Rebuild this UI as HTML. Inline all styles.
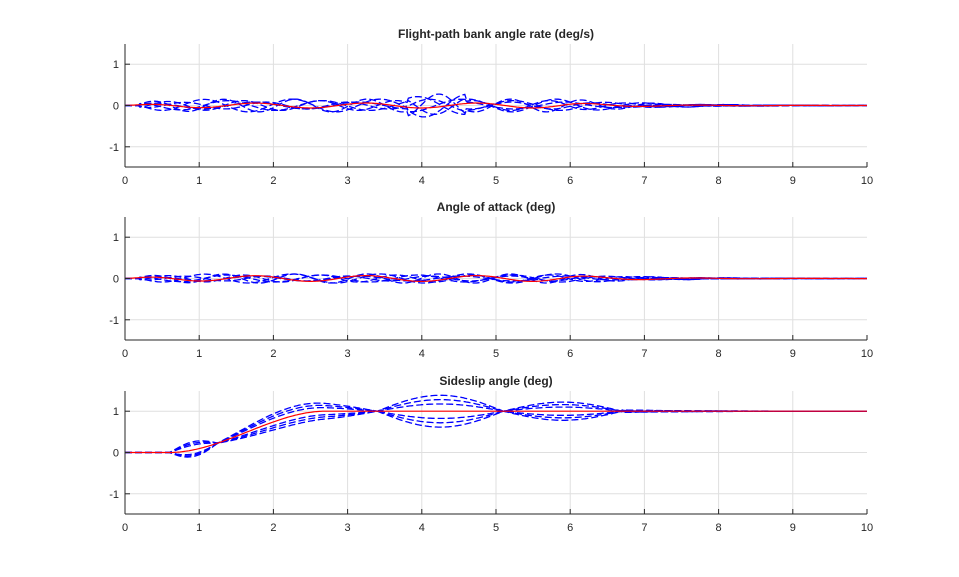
<!DOCTYPE html>
<html><head><meta charset="utf-8"><style>
body{margin:0;background:#fff;}
svg{display:block;font-family:"Liberation Sans",Arial,sans-serif;}
</style></head><body>
<svg id="s" width="959" height="577" viewBox="0 0 959 577" xmlns="http://www.w3.org/2000/svg"></svg>
<script>
const S=document.getElementById('s');
const X0=125,X1=867,px=(X1-X0)/10;
const panels=[{top:44,title:"Flight-path bank angle rate (deg/s)",k:0},
{top:217,title:"Angle of attack (deg)",k:1},{top:391,title:"Sideslip angle (deg)",k:2}];
let h='';
function step(t){if(t<0.6)return 0;if(t>2.7)return 1;let u=(t-0.6)/2.1;return u*u*(3-2*u);}
panels.forEach(p=>{
 const H=123,top=p.top,bot=top+H;
 const Y=v=>top+H/2-v*41.3;
 h+=`<rect x="${X0}" y="${top}" width="${X1-X0}" height="${H}" fill="#fff"/>`;
 for(let i=1;i<10;i++){let x=X0+i*px;h+=`<line x1="${x}" y1="${top}" x2="${x}" y2="${bot}" stroke="#dfdfdf" stroke-width="1"/>`;}
 [-1,0,1].forEach(v=>h+=`<line x1="${X0}" y1="${Y(v)}" x2="${X1}" y2="${Y(v)}" stroke="#dfdfdf" stroke-width="1"/>`);
 const N=500;
 for(let c=0;c<6;c++){
  let d='';
  for(let i=0;i<=N;i++){let t=10*i/N,v;
   const ph=c*1.1, sg=(c%2?1:-1), m=(0.5+0.3*(c%3));
   if(p.k==2){
    let env=0;
    if(t>0.6&&t<1.25)env=0.2*Math.sin(Math.PI*(t-0.6)/0.65)*(c%2?1:-0.8)*(0.6+0.2*(c%3));
    else if(t>=1.25&&t<3.4)env=0.2*Math.sin(Math.PI*(t-1.25)/2.15)*sg*m;
    else if(t>=3.4&&t<5.1)env=0.35*Math.sin(Math.PI*(t-3.4)/1.7)*sg*m;
    else if(t>=5.1&&t<6.7)env=0.2*Math.sin(Math.PI*(t-5.1)/1.6)*sg*m;
    else if(t>=6.7)env=0.03*Math.exp(-(t-6.7))*Math.sin(3*t+ph);
    v=step(t)+env;
   } else {
    let a=(p.k==0?0.14:0.1)*(0.6+0.25*(c%3));
    if(p.k==0&&t>3.8&&t<4.6)a*=1.8;
    v=(t<0.2?0:a)*Math.sin(t*(4.5+0.4*c)+ph)*(1-Math.exp(-t*3));
    if(t>6)v*=Math.exp(-(t-6)*0.9);
   }
   d+=(i?'L':'M')+(X0+t*px).toFixed(1)+' '+Y(v).toFixed(1);}
  h+=`<path d="${d}" fill="none" stroke="#0000ff" stroke-width="1.3" stroke-dasharray="7,3"/>`;
 }
 let d='';
 for(let i=0;i<=N;i++){let t=10*i/N,v;
  if(p.k==2)v=step(t);else v=(p.k==0?0.06:0.07)*Math.sin(t*4.2+0.5)*(1-Math.exp(-t*2))*(t>6?Math.exp(-(t-6)):1);
  d+=(i?'L':'M')+(X0+t*px).toFixed(1)+' '+Y(v).toFixed(1);}
 h+=`<path d="${d}" fill="none" stroke="#ff0000" stroke-width="1.2"/>`;
 h+=`<line x1="${X0}" y1="${bot}" x2="${X1}" y2="${bot}" stroke="#262626"/><line x1="${X0}" y1="${top}" x2="${X0}" y2="${bot}" stroke="#262626"/>`;
 for(let i=0;i<=10;i++){let x=X0+i*px;h+=`<line x1="${x}" y1="${bot}" x2="${x}" y2="${bot-5}" stroke="#262626"/><text x="${x}" y="${bot+17}" font-size="11" text-anchor="middle" fill="#262626">${i}</text>`;}
 [-1,0,1].forEach(v=>h+=`<line x1="${X0}" y1="${Y(v)}" x2="${X0+5}" y2="${Y(v)}" stroke="#262626"/><text x="${X0-6}" y="${Y(v)+4}" font-size="11" text-anchor="end" fill="#262626">${v}</text>`);
 h+=`<text x="496" y="${top-6}" font-size="12" font-weight="bold" text-anchor="middle" fill="#262626">${p.title}</text>`;
});
S.innerHTML=h;
</script>
</body></html>
